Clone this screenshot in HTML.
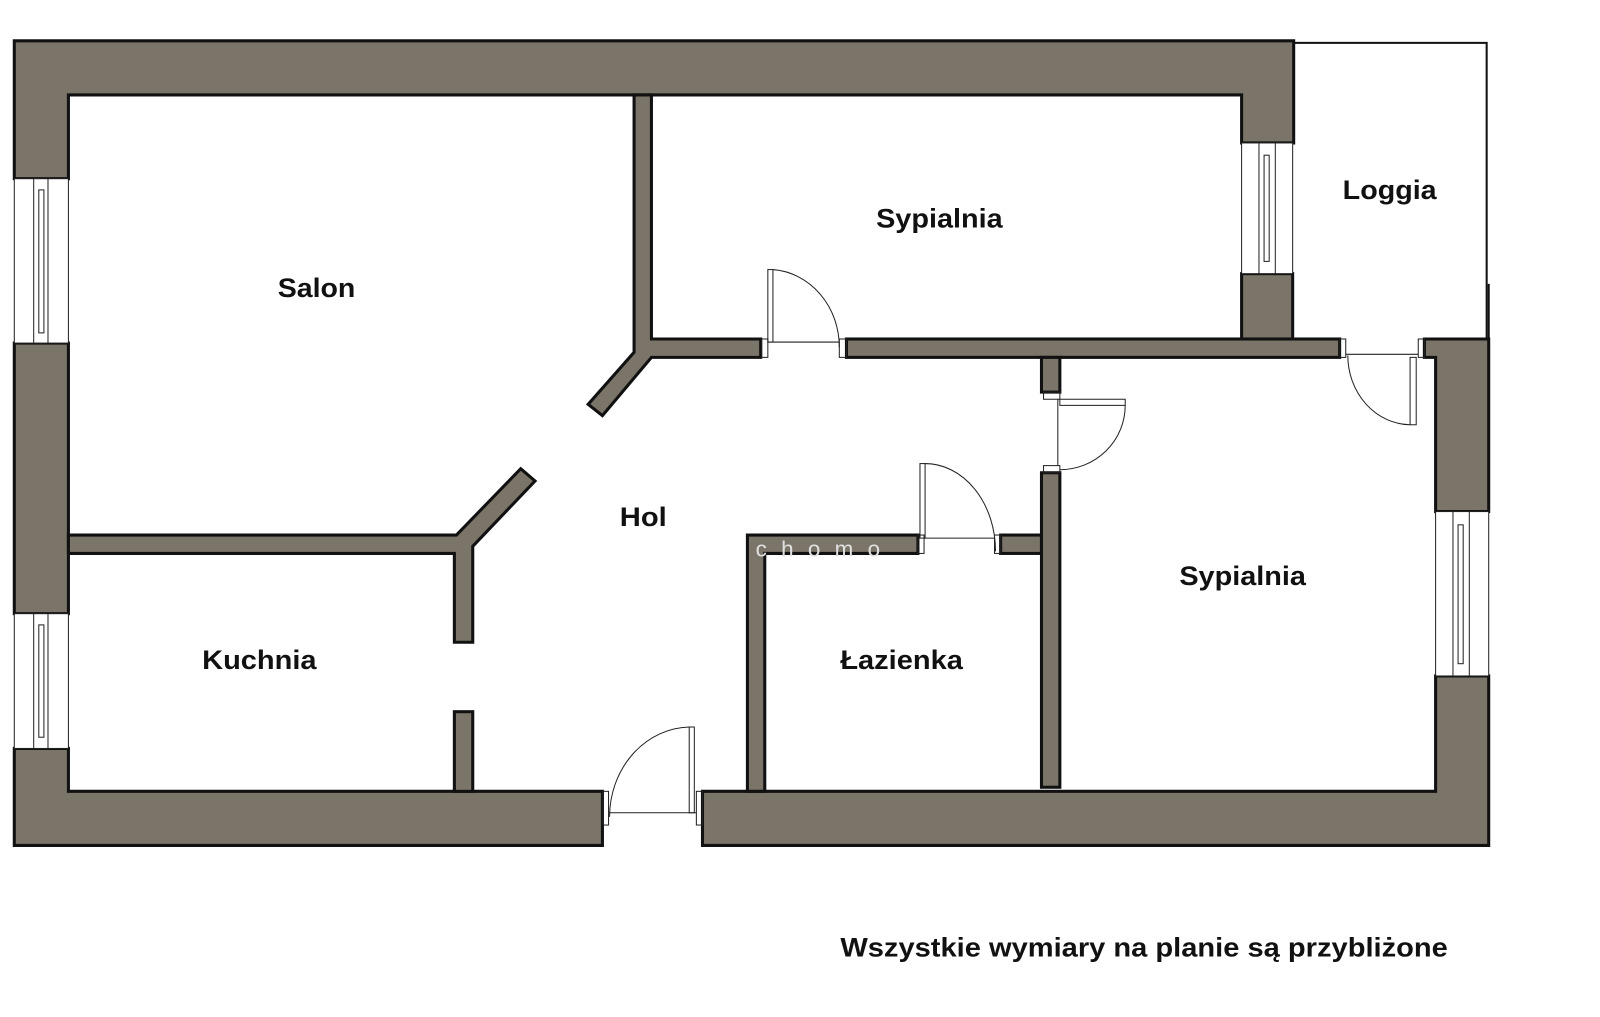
<!DOCTYPE html>
<html><head><meta charset="utf-8"><style>
html,body{margin:0;padding:0;background:#fff;}
svg{display:block;}
text{font-family:"Liberation Sans",sans-serif;font-weight:bold;fill:#111;}
</style></head><body>
<svg width="1600" height="1017" viewBox="0 0 1567 996" preserveAspectRatio="none" xmlns="http://www.w3.org/2000/svg">
<rect width="1600" height="1017" fill="#fff"/>
<polyline points="1267,42 1456,42 1456,332" fill="none" stroke="#111" stroke-width="2"/>
<line x1="1458" y1="278" x2="1458" y2="332" stroke="#111" stroke-width="2"/>
<g fill="#7b7569" stroke="#111" stroke-width="3" stroke-linejoin="miter">
<polygon points="14,40 1267,40 1267,140 1216,140 1216,93 67,93 67,175 14,175"/>
<rect x="14" y="336" width="53" height="265"/>
<polygon points="14,733 67,733 67,775 590,775 590,828 14,828"/>
<polygon points="688,775 1406,775 1406,662 1458,662 1458,828 688,828"/>
<polygon points="1395,332 1458,332 1458,501 1406,501 1406,350 1395,350"/>
<rect x="1216" y="268" width="50" height="64"/>
<polygon points="621,93 638,93 638,332 745,332 745,350 638,350 590,407 576,396 621,345"/>
<rect x="829" y="332" width="483" height="18"/>
<rect x="1020" y="350" width="18" height="34"/>
<polygon points="67,524 447,524 510,459 524,471 463,535 463,629 445,629 445,542 67,542"/>
<rect x="445" y="697" width="18" height="78"/>
<polygon points="732,524 899,524 899,542 749,542 749,775 732,775"/>
<rect x="980" y="524" width="40" height="18"/>
<rect x="1020" y="463" width="18" height="308"/>
</g>
<g fill="#fff" stroke="#222" stroke-width="1">
<rect x="14" y="175" width="53" height="161"/>
<rect x="33" y="175" width="14" height="161"/><rect x="38" y="186" width="5" height="140"/>
<rect x="14" y="601" width="53" height="132"/>
<rect x="33" y="601" width="14" height="132"/><rect x="38" y="612" width="5" height="110"/>
<rect x="1216" y="140" width="50" height="128"/>
<rect x="1233" y="140" width="16" height="128"/><rect x="1238" y="152" width="5" height="104"/>
<rect x="1406" y="501" width="52" height="161"/>
<rect x="1423" y="501" width="16" height="161"/><rect x="1428" y="514" width="5" height="136"/>
</g>
<g fill="none" stroke="#222" stroke-width="1">
<rect x="746" y="332" width="6" height="18"/><rect x="822" y="332" width="7" height="18"/>
<line x1="752" y1="335" x2="822" y2="335"/>
<rect x="752" y="264" width="5" height="71"/>
<path d="M757,264 A70,76 0 0 1 822,340"/>
<rect x="1022" y="384" width="16" height="7"/><rect x="1022" y="456" width="16" height="7"/>
<line x1="1036" y1="391" x2="1036" y2="456"/>
<rect x="1038" y="391" width="64" height="6"/>
<path d="M1102,397 A64,63 0 0 1 1038,460"/>
<rect x="899" y="524" width="6" height="18"/><rect x="974" y="524" width="6" height="18"/>
<line x1="905" y1="527" x2="974" y2="527"/>
<rect x="901" y="454" width="5" height="73"/>
<path d="M906,454 A69,86 0 0 1 975,540"/>
<rect x="590" y="775" width="6" height="33"/><rect x="682" y="775" width="6" height="33"/>
<line x1="596" y1="796" x2="682" y2="796"/>
<rect x="675" y="712" width="5" height="84"/>
<path d="M675,712 A80,88 0 0 0 597,800"/>
<rect x="1312" y="332" width="6" height="18"/><rect x="1389" y="332" width="6" height="18"/>
<line x1="1318" y1="347" x2="1389" y2="347"/>
<rect x="1381" y="350" width="6" height="66"/>
<path d="M1320,348 A62,68 0 0 0 1381,416"/>
</g>
<text x="740" y="545" font-size="22" style="fill:#e0e0e0;font-weight:normal" letter-spacing="14">chomo</text>
<g font-size="26" text-anchor="middle">
<text x="310" y="291" textLength="76" lengthAdjust="spacingAndGlyphs">Salon</text>
<text x="920" y="223" textLength="124" lengthAdjust="spacingAndGlyphs">Sypialnia</text>
<text x="1361" y="195" textLength="92" lengthAdjust="spacingAndGlyphs">Loggia</text>
<text x="630" y="515" textLength="46" lengthAdjust="spacingAndGlyphs">Hol</text>
<text x="254" y="655" textLength="112" lengthAdjust="spacingAndGlyphs">Kuchnia</text>
<text x="883" y="655" textLength="120" lengthAdjust="spacingAndGlyphs">Łazienka</text>
<text x="1217" y="573" textLength="124" lengthAdjust="spacingAndGlyphs">Sypialnia</text>
</g>
<text x="823" y="937" font-size="26" textLength="595" lengthAdjust="spacingAndGlyphs">Wszystkie wymiary na planie są przybliżone</text>
</svg>
</body></html>
